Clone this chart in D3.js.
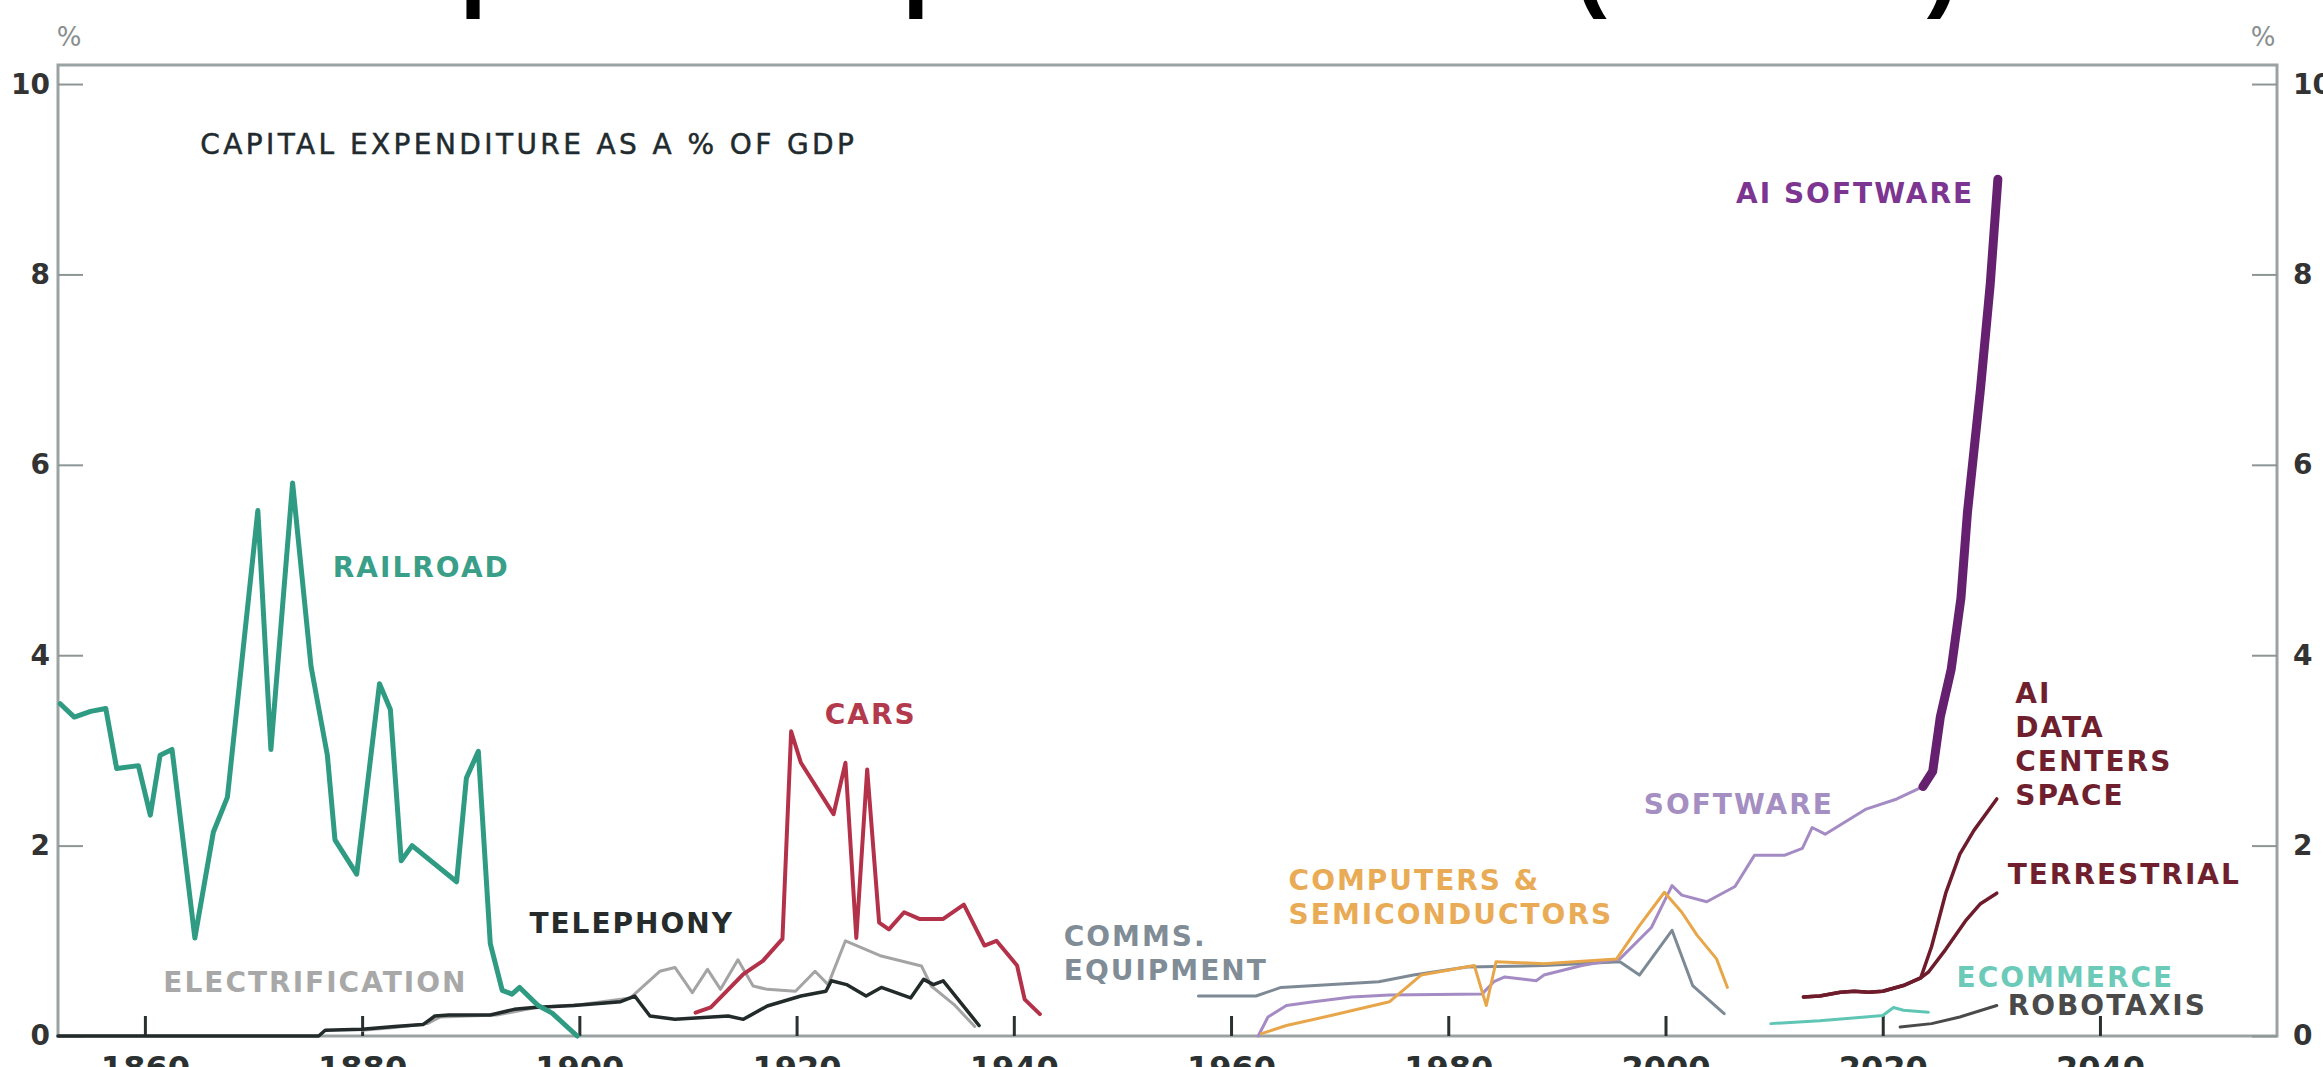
<!DOCTYPE html>
<html>
<head>
<meta charset="utf-8">
<script src="https://cdn.jsdelivr.net/npm/d3@7"></script>
<style>
  body { margin: 0; background: #fff; }
  svg { display: block; }
</style>
</head>
<body>
<div id="chart"></div>
<script>
// ---- data (year, % of GDP) ----
const xTicks = [1860, 1880, 1900, 1920, 1940, 1960, 1980, 2000, 2020, 2040];
const yTicks = [0, 2, 4, 6, 8, 10];

const railroad = [
  [1852.2, 3.49], [1853.5, 3.35], [1855.0, 3.41], [1856.4, 3.44], [1857.4, 2.81],
  [1859.4, 2.84], [1860.5, 2.32], [1861.4, 2.95], [1862.5, 3.01], [1864.6, 1.03],
  [1866.3, 2.14], [1867.6, 2.51], [1870.4, 5.52], [1871.6, 3.01], [1873.6, 5.81],
  [1875.3, 3.88], [1876.8, 2.95], [1877.5, 2.06], [1879.5, 1.70], [1881.6, 3.70],
  [1882.6, 3.43], [1883.6, 1.84], [1884.6, 2.0], [1888.7, 1.62], [1889.6, 2.71],
  [1890.7, 2.99], [1891.8, 0.97], [1892.9, 0.48], [1893.8, 0.44], [1894.5, 0.51],
  [1896.2, 0.32], [1897.5, 0.24], [1899.8, 0.0]
];

const telephony = [
  [1852, 0], [1876, 0], [1876.6, 0.06], [1880, 0.07], [1883, 0.10], [1885.6, 0.12],
  [1886.7, 0.21], [1888, 0.22], [1891.8, 0.22], [1894, 0.28], [1895.8, 0.30],
  [1899.5, 0.32], [1903.8, 0.36], [1905.1, 0.42], [1906.5, 0.21], [1908.8, 0.175],
  [1913.7, 0.21], [1915.1, 0.175], [1917.3, 0.315], [1920.4, 0.42], [1922.7, 0.47],
  [1923.2, 0.58], [1924.6, 0.54], [1926.4, 0.42], [1927.8, 0.51], [1930.5, 0.40],
  [1931.7, 0.595], [1932.6, 0.54], [1933.5, 0.58], [1936.8, 0.11]
];

const electrification = [
  [1880, 0.06], [1883, 0.09], [1886, 0.13], [1887.2, 0.20], [1892.4, 0.22],
  [1896, 0.30], [1900.2, 0.33], [1904.7, 0.40], [1907.4, 0.68], [1908.8, 0.72],
  [1910.4, 0.455], [1911.8, 0.70], [1913, 0.49], [1914.6, 0.80], [1916, 0.525],
  [1917.3, 0.49], [1919.9, 0.47], [1921.7, 0.68], [1922.9, 0.54], [1924.5, 1.0],
  [1927.8, 0.84], [1931.5, 0.735], [1932.4, 0.525], [1934.5, 0.33], [1936.4, 0.10]
];

const cars = [
  [1910.7, 0.245], [1912.1, 0.30], [1915.1, 0.65], [1916.9, 0.79], [1918.7, 1.02],
  [1919.5, 3.20], [1920.4, 2.87], [1923.4, 2.33], [1924.5, 2.87], [1925.5, 1.03],
  [1926.5, 2.80], [1927.6, 1.19], [1928.5, 1.12], [1929.9, 1.30], [1931.3, 1.23],
  [1933.5, 1.23], [1935.4, 1.38], [1937.3, 0.95], [1938.4, 1.0], [1940.3, 0.74],
  [1941.0, 0.385], [1942.4, 0.23]
];

const commsEquipment = [
  [1957, 0.42], [1962.3, 0.42], [1964.6, 0.51], [1973.6, 0.57], [1976.8, 0.64],
  [1981.7, 0.725], [1988.8, 0.74], [1995.8, 0.78], [1997.6, 0.64], [2000.6, 1.11],
  [2002.5, 0.53], [2005.4, 0.235]
];

const computersSemis = [
  [1962.8, 0.025], [1965.1, 0.11], [1969.4, 0.22], [1974.6, 0.36], [1977.5, 0.64],
  [1982.4, 0.74], [1983.5, 0.32], [1984.4, 0.78], [1988.8, 0.76], [1995.5, 0.81],
  [1997.6, 1.16], [1999.9, 1.51], [2001.5, 1.30], [2002.9, 1.06], [2004.7, 0.81],
  [2005.7, 0.51]
];

const software = [
  [1962.5, 0], [1963.4, 0.2], [1965.1, 0.32], [1967.6, 0.36], [1971.1, 0.41],
  [1974.6, 0.43], [1983.1, 0.44], [1984.2, 0.57], [1985.2, 0.62], [1988.1, 0.58],
  [1988.8, 0.64], [1992.3, 0.74], [1995.8, 0.81], [1998.7, 1.14], [2000.6, 1.58],
  [2001.5, 1.48], [2003.8, 1.41], [2006.4, 1.57], [2008.2, 1.90], [2011.0, 1.90],
  [2012.6, 1.97], [2013.5, 2.19], [2014.7, 2.12], [2018.4, 2.38], [2021.3, 2.49],
  [2023.7, 2.62]
];

const aiSoftware = [
  [2023.7, 2.62], [2024.6, 2.78], [2025.3, 3.35], [2026.3, 3.85], [2027.2, 4.6],
  [2027.8, 5.5], [2029.0, 6.8], [2029.9, 7.9], [2030.6, 9.0]
];

const aiDataCentersSpace = [
  [2012.7, 0.41], [2014.2, 0.42], [2016.1, 0.46], [2017.4, 0.47], [2018.7, 0.46],
  [2020, 0.47], [2021.9, 0.53], [2023.5, 0.61], [2024.5, 0.94], [2025.8, 1.50],
  [2027.1, 1.91], [2028.4, 2.16], [2030.5, 2.49]
];

const terrestrial = [
  [2012.7, 0.41], [2014.2, 0.42], [2016.1, 0.46], [2017.4, 0.47], [2018.7, 0.46],
  [2020, 0.47], [2021.9, 0.53], [2023.5, 0.61], [2024.2, 0.67], [2025.8, 0.91],
  [2027.7, 1.22], [2029.0, 1.39], [2030.5, 1.50]
];

const ecommerce = [
  [2009.7, 0.13], [2014.2, 0.16], [2018.4, 0.20], [2020, 0.215], [2021, 0.30],
  [2021.9, 0.27], [2024.2, 0.25]
];

const robotaxis = [
  [2021.6, 0.094], [2024.5, 0.13], [2027.1, 0.20], [2030.5, 0.32]
];

// ---- layout ----
const width = 2323;
const height = 1067;
const frame = { left: 58, right: 2277, top: 65, bottom: 1036 };
const labelFont = '"DejaVu Sans", sans-serif';

const seriesStyles = [
  { data: electrification, color: "#a4a4a4", width: 3 },
  { data: telephony, color: "#222a2a", width: 3.5 },
  { data: railroad, color: "#2f9b83", width: 5 },
  { data: cars, color: "#b3324a", width: 4 },
  { data: commsEquipment, color: "#7d8a96", width: 3 },
  { data: software, color: "#a48bc4", width: 3 },
  { data: computersSemis, color: "#e8a64a", width: 3 },
  { data: ecommerce, color: "#5fc6b5", width: 3 },
  { data: robotaxis, color: "#4a4a4a", width: 3 },
  { data: terrestrial, color: "#6e1c2b", width: 3.5 },
  { data: aiDataCentersSpace, color: "#6e1c2b", width: 3.5 },
  { data: aiSoftware, color: "#65206f", width: 9 },
];

const annotations = [
  { lines: ["CAPITAL EXPENDITURE AS A % OF GDP"], year: 1865.1, value: 9.37, color: "#1f2b2e", weight: "normal", spacing: 3.4, stroke: 0.5 },
  { lines: ["RAILROAD"], year: 1877.3, value: 4.93, color: "#3a9f88" },
  { lines: ["CARS"], year: 1922.6, value: 3.38, color: "#b23a4c" },
  { lines: ["TELEPHONY"], year: 1895.4, value: 1.19, color: "#262b2b" },
  { lines: ["ELECTRIFICATION"], year: 1861.7, value: 0.57, color: "#a8a8a8" },
  { lines: ["COMMS.", "EQUIPMENT"], year: 1944.6, value: 1.05, color: "#808c96" },
  { lines: ["COMPUTERS &", "SEMICONDUCTORS"], year: 1965.3, value: 1.64, color: "#e9ab55" },
  { lines: ["SOFTWARE"], year: 1998.0, value: 2.44, color: "#a58fc2" },
  { lines: ["AI SOFTWARE"], year: 2006.5, value: 8.86, color: "#7c3590" },
  { lines: ["AI", "DATA", "CENTERS", "SPACE"], year: 2032.2, value: 3.60, color: "#6f1f2d" },
  { lines: ["TERRESTRIAL"], year: 2031.5, value: 1.70, color: "#6f1f2d" },
  { lines: ["ECOMMERCE"], year: 2026.8, value: 0.62, color: "#6ccab9" },
  { lines: ["ROBOTAXIS"], year: 2031.5, value: 0.33, color: "#4a4a4a" },
];

const x = d3.scaleLinear().domain([1852, 2056.3]).range([frame.left, frame.right]);
const y = d3.scaleLinear().domain([0, 10.2]).range([frame.bottom, frame.top]);

const svg = d3
  .select("#chart")
  .append("svg")
  .attr("width", width)
  .attr("height", height)
  .attr("viewBox", `0 0 ${width} ${height}`);

svg.append("rect").attr("width", width).attr("height", height).attr("fill", "#fff");

// title, mostly cropped off the top of the picture
svg
  .append("text")
  .attr("x", 337)
  .attr("y", -1)
  .attr("font-family", '"Liberation Sans", Arial, sans-serif')
  .attr("font-weight", "bold")
  .attr("font-size", 96)
  .attr("fill", "#000")
  .text("Capex and spend as share (% GDP)");

drawAxes();
drawLines();
drawLabels();

function drawAxes() {
  // plot frame
  svg
    .append("rect")
    .attr("x", frame.left)
    .attr("y", frame.top)
    .attr("width", frame.right - frame.left)
    .attr("height", frame.bottom - frame.top)
    .attr("fill", "none")
    .attr("stroke", "#9aa2a2")
    .attr("stroke-width", 3);

  // bottom axis, ticks pointing inward
  const xAxis = svg
    .append("g")
    .attr("transform", `translate(0,${frame.bottom})`)
    .call(d3.axisBottom(x).tickValues(xTicks).tickSize(-20).tickFormat(d3.format("d")));
  xAxis.select(".domain").remove();
  xAxis.selectAll(".tick line").attr("stroke", "#2b3131").attr("stroke-width", 3);
  xAxis
    .selectAll(".tick text")
    .attr("y", 43)
    .attr("dy", 0)
    .attr("fill", "#2b3131")
    .attr("font-family", labelFont)
    .attr("font-weight", "bold")
    .attr("font-size", 32);

  const styleY = (g) => {
    g.select(".domain").remove();
    g.selectAll(".tick line").attr("stroke", "#8d9595").attr("stroke-width", 2);
    g.selectAll(".tick text")
      .attr("fill", "#333")
      .attr("font-family", labelFont)
      .attr("font-weight", "bold")
      .attr("font-size", 28);
  };

  svg
    .append("g")
    .attr("transform", `translate(${frame.left},0)`)
    .call(d3.axisLeft(y).tickValues(yTicks).tickSize(-25).tickPadding(8))
    .call(styleY);

  svg
    .append("g")
    .attr("transform", `translate(${frame.right},0)`)
    .call(d3.axisRight(y).tickValues(yTicks).tickSize(-25).tickPadding(16))
    .call(styleY);

  // unit markers above each axis
  [frame.left + 11, frame.right - 14].forEach((cx) => {
    svg
      .append("text")
      .attr("x", cx)
      .attr("y", 46)
      .attr("text-anchor", "middle")
      .attr("font-family", labelFont)
      .attr("font-size", 26)
      .attr("fill", "#8a8f8f")
      .text("%");
  });
}

function drawLines() {
  const line = d3
    .line()
    .x((d) => x(d[0]))
    .y((d) => y(d[1]));

  seriesStyles.forEach((s) => {
    svg
      .append("path")
      .datum(s.data)
      .attr("fill", "none")
      .attr("stroke", s.color)
      .attr("stroke-width", s.width)
      .attr("stroke-linejoin", "round")
      .attr("stroke-linecap", "round")
      .attr("d", line);
  });
}

function drawLabels() {
  annotations.forEach((a) => {
    const t = svg
      .append("text")
      .attr("font-family", labelFont)
      .attr("font-weight", a.weight || "bold")
      .attr("font-size", 28)
      .attr("letter-spacing", a.spacing || 2)
      .attr("fill", a.color);

    if (a.stroke) {
      t.attr("stroke", a.color).attr("stroke-width", a.stroke);
    }

    a.lines.forEach((ln, i) => {
      t.append("tspan")
        .attr("x", x(a.year))
        .attr("y", y(a.value) + i * 34)
        .attr("dy", "0.36em")
        .text(ln);
    });
  });
}
</script>
</body>
</html>
